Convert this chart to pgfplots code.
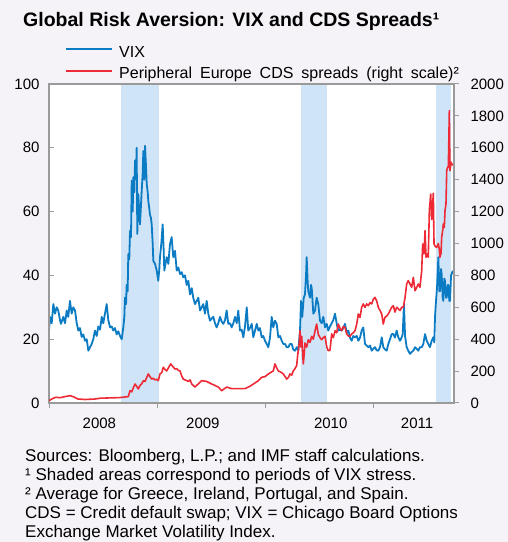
\documentclass[border=0pt]{standalone}
\usepackage{pgfplots}
\pgfplotsset{compat=1.18}
\usepackage{fontspec}
\setmainfont{Liberation Sans}
\definecolor{bgc}{HTML}{F6F3F8}
\definecolor{shade}{HTML}{CFE4F7}
\definecolor{vixblue}{HTML}{0B7BC3}
\definecolor{cdsred}{HTML}{ED2A35}
\definecolor{axgray}{HTML}{9A9A9A}
\begin{document}
\begin{tikzpicture}[x=1bp,y=1bp]
\useasboundingbox (0,0) rectangle (508,542);
\fill[bgc] (0,0) rectangle (508,542);
\node[anchor=base west, inner sep=0pt, font=\bfseries\fontsize{19.5bp}{22bp}\selectfont] at (23,515) {Global Risk Aversion: VIX and CDS Spreads¹};
% legend
\draw[vixblue, line width=1.8bp] (66,492.7) -- (112.3,492.7);
\draw[cdsred, line width=1.8bp] (66,471.3) -- (112.3,471.3);
\node[anchor=base west, inner sep=0pt, font=\fontsize{16bp}{19bp}\selectfont] at (119,484.7) {VIX};
\node[anchor=base west, inner sep=0pt, font=\fontsize{16bp}{19bp}\selectfont] at (119,463) {Peripheral\hspace{8bp}Europe\hspace{8bp}CDS\hspace{8bp}spreads\hspace{8bp}(right\hspace{8bp}scale)²};
\begin{axis}[
  at={(49bp,139bp)}, anchor=south west,
  width=405bp, height=319bp, scale only axis,
  xmin=0, xmax=45, ymin=0, ymax=100,
  axis background/.style={fill=white},
  axis line style={draw=axgray, line width=1.5bp, -},
  axis on top,
  xtick=\empty,
  ytick={0,20,...,100}, ytick pos=left, tick align=inside,
  major tick length=5bp, tick style={draw=axgray, line width=1bp},
  yticklabel style={font=\fontsize{15bp}{18bp}\selectfont, xshift=-6bp},
  /pgf/number format/assume math mode=true,
]
\addplot[fill=shade, draw=none, forget plot] coordinates {(8,0) (8,100) (12.22,100) (12.22,0)} -- cycle;
\addplot[fill=shade, draw=none, forget plot] coordinates {(28,0) (28,100) (30.89,100) (30.89,0)} -- cycle;
\addplot[fill=shade, draw=none, forget plot] coordinates {(43,0) (43,100) (44.67,100) (44.67,0)} -- cycle;
\addplot[draw=vixblue, line width=1.8bp, line join=round] coordinates {
(0.00,22.7) (0.11,27) (0.30,25) (0.48,31) (0.67,28) (0.86,30) (1.03,29) (1.22,26) (1.33,24.8) (1.59,27)
(1.78,25) (1.97,29) (2.14,27) (2.33,32) (2.52,28) (2.70,30) (2.89,29) (3.08,25) (3.26,22.7) (3.44,23.5)
(3.63,20.7) (3.81,21.5) (4.00,19.5) (4.19,20) (4.37,16.4) (4.56,17.5) (4.74,18.5) (4.92,20) (5.11,22.7) (5.30,21)
(5.48,24) (5.67,23) (5.86,27) (6.03,25) (6.22,28) (6.41,31) (6.59,26) (6.78,23.7) (6.97,24) (7.14,22.7)
(7.33,23.5) (7.52,21.5) (7.70,22.5) (7.89,21) (8.08,20) (8.26,23.8) (8.37,27) (8.44,33) (8.56,31) (8.63,37)
(8.74,35) (8.81,46.7) (8.92,45) (9.00,54) (9.11,52) (9.19,69.7) (9.30,60) (9.37,70.8) (9.48,66) (9.56,76)
(9.67,72) (9.74,80) (9.81,53) (9.92,65.5) (10.03,60) (10.11,56) (10.22,62) (10.30,66.5) (10.41,72) (10.48,79)
(10.59,70) (10.67,80.6) (10.78,74) (10.86,68.6) (10.97,66) (11.03,63.4) (11.14,61) (11.22,59) (11.33,58) (11.41,56)
(11.52,50) (11.59,44.6) (11.78,43.6) (11.97,41.5) (12.14,38.3) (12.26,42) (12.33,45.7) (12.48,50) (12.63,56) (12.74,48)
(12.81,41.5) (12.97,44) (13.08,45.7) (13.26,43.6) (13.44,49.8) (13.63,52) (13.74,48) (13.81,45.7) (14.00,47.7) (14.19,41.5)
(14.37,42.5) (14.56,40.4) (14.74,41) (14.92,39.4) (15.11,40) (15.30,37) (15.48,38.3) (15.67,34) (15.86,36) (16.03,33)
(16.22,31) (16.41,32) (16.59,33) (16.78,29) (16.97,30) (17.14,31) (17.33,28) (17.52,32) (17.70,28) (17.89,25.8)
(18.08,26.5) (18.26,27) (18.44,25) (18.63,23.7) (18.81,25) (19.00,27) (19.19,25.5) (19.37,24.8) (19.56,26) (19.74,29)
(19.92,24.8) (20.11,25) (20.30,23.7) (20.48,25) (20.67,27) (20.86,25) (21.03,29) (21.22,22.7) (21.41,23) (21.59,20.6)
(21.78,24) (21.97,30) (22.14,22.7) (22.33,23.5) (22.52,24.8) (22.70,20.6) (22.89,22.7) (23.08,24.8) (23.26,22.7) (23.44,23.5)
(23.63,20.6) (23.81,21) (24.00,19.5) (24.19,18.5) (24.37,17.5) (24.56,20.6) (24.74,27) (24.92,23.7) (25.11,25.8) (25.30,24.8)
(25.48,20.6) (25.67,21) (25.86,19.5) (26.03,18.5) (26.22,18.5) (26.41,17.5) (26.59,17.5) (26.78,18.5) (26.97,18.5) (27.14,16.8)
(27.33,16.4) (27.52,17.5) (27.70,16.4) (27.89,22.7) (28.00,32) (28.14,27) (28.30,33) (28.44,34) (28.56,40) (28.63,45.7)
(28.74,38) (28.81,35) (29.00,33) (29.11,37) (29.19,36) (29.37,28) (29.56,29) (29.74,33) (29.92,31) (30.11,25.8)
(30.30,25) (30.48,27) (30.67,23.7) (30.86,24.8) (31.03,22.7) (31.22,24) (31.41,25) (31.59,26) (31.78,28) (31.97,24.8)
(32.14,22.7) (32.33,23) (32.52,22.7) (32.70,23.5) (32.89,24.8) (33.08,22) (33.26,22.7) (33.44,20.5) (33.63,19.5) (33.81,21)
(34.00,20.6) (34.19,21) (34.37,19.5) (34.56,20.5) (34.74,22.7) (34.92,23.7) (35.11,18.5) (35.30,18) (35.48,17.5) (35.67,18)
(35.86,16.4) (36.03,17) (36.22,17.5) (36.41,16.5) (36.59,16.4) (36.78,17.5) (36.97,20.6) (37.14,17.5) (37.33,16.8) (37.52,16.4)
(37.70,18.5) (37.89,20) (38.08,21.6) (38.26,21.6) (38.44,20.5) (38.63,22.7) (38.81,20.6) (39.00,19.5) (39.19,20.6) (39.30,21.6)
(39.44,31) (39.56,21) (39.74,17.5) (39.92,16.4) (40.11,15.4) (40.30,16) (40.48,16.4) (40.67,17.5) (40.86,17) (41.03,16.4)
(41.22,17.5) (41.41,17.5) (41.59,18.5) (41.78,21.6) (41.97,19.5) (42.14,18.5) (42.33,17.5) (42.52,19.5) (42.70,20.6) (42.81,19)
(42.89,27) (43.00,32) (43.11,36) (43.26,45.7) (43.37,35) (43.44,35) (43.56,42) (43.63,40.4) (43.74,33) (43.81,32)
(43.92,39) (44.00,38.3) (44.11,33) (44.19,33) (44.30,37) (44.37,37) (44.48,32) (44.56,32) (44.67,40) (44.74,40.4)
(44.86,41.5)
};
\end{axis}
\begin{axis}[
  at={(49bp,139bp)}, anchor=south west,
  width=405bp, height=319bp, scale only axis,
  xmin=0, xmax=45, ymin=0, ymax=2000,
  axis y line*=right, axis x line*=bottom,
  axis line style={draw=axgray, line width=1.5bp, -},
  tick align=outside,
  xtick={0,12,24,36}, xticklabels={},
  extra x ticks={5.6,17.1,31.3,40.9},
  extra x tick labels={2008,2009,2010,2011},
  extra x tick style={major tick length=0pt},
  ytick={0,200,...,2000},
  major tick length=5bp, tick style={draw=axgray, line width=1bp},
  ticklabel style={font=\fontsize{15bp}{18bp}\selectfont},
  xticklabel style={yshift=-12bp},
  yticklabel style={xshift=8bp},
  /pgf/number format/assume math mode=true,
  /pgf/number format/1000 sep={},
]
\addplot[draw=cdsred, line width=1.6bp, line join=round] coordinates {
(0.00,15) (0.48,30) (0.78,36) (1.22,33) (1.78,40) (2.33,46) (2.67,40) (3.22,25) (4.00,22) (5.11,25)
(5.67,30) (6.78,32) (7.89,34) (8.81,40) (9.00,77) (9.19,70) (9.37,95) (9.56,119) (9.74,105) (9.92,88)
(10.11,110) (10.30,120) (10.48,140) (10.67,135) (10.86,160) (11.03,182) (11.22,165) (11.41,150) (11.59,155) (11.78,145)
(11.97,148) (12.14,140) (12.33,182) (12.52,190) (12.70,224) (12.89,210) (13.08,201) (13.26,220) (13.52,245) (13.74,230)
(14.00,213) (14.19,215) (14.37,205) (14.56,201) (14.74,170) (14.92,150) (15.11,145) (15.30,140) (15.48,135) (15.67,145)
(15.86,119) (16.22,100) (16.59,120) (16.97,140) (17.52,135) (18.08,119) (18.44,110) (18.81,100) (19.19,77) (19.37,85)
(19.74,100) (20.30,90) (21.03,90) (21.78,90) (22.33,105) (22.70,119) (23.26,140) (23.63,161) (24.00,165) (24.37,182)
(24.74,195) (24.92,201) (25.11,245) (25.30,220) (25.48,201) (25.86,190) (26.03,182) (26.41,150) (26.59,160) (26.78,182)
(26.97,175) (27.14,201) (27.33,215) (27.52,235) (27.63,300) (27.70,328) (27.81,380) (27.89,453) (28.00,350) (28.08,418)
(28.19,300) (28.26,245) (28.37,320) (28.44,376) (28.63,350) (28.81,397) (29.00,380) (29.19,418) (29.37,400) (29.56,453)
(29.74,495) (29.92,430) (30.11,410) (30.30,397) (30.48,410) (30.67,418) (30.86,351) (31.03,328) (31.22,330) (31.41,433)
(31.59,410) (31.78,453) (31.97,440) (32.14,495) (32.33,470) (32.52,453) (32.70,480) (32.89,474) (33.08,433) (33.26,420)
(33.44,418) (33.63,433) (33.81,440) (34.00,453) (34.19,495) (34.37,558) (34.56,537) (34.74,600) (34.92,621) (35.11,600)
(35.30,621) (35.48,610) (35.67,630) (35.86,621) (36.03,650) (36.22,662) (36.41,640) (36.59,600) (36.78,580) (36.97,558)
(37.14,495) (37.33,537) (37.52,545) (37.70,558) (37.89,580) (38.08,600) (38.26,610) (38.44,570) (38.63,600) (38.81,590)
(39.00,580) (39.19,600) (39.37,600) (39.56,662) (39.74,746) (39.92,767) (40.11,746) (40.30,725) (40.48,788) (40.67,704)
(40.86,725) (41.03,746) (41.22,725) (41.41,830) (41.52,997) (41.67,935) (41.78,1080) (41.89,914) (42.04,935) (42.14,914)
(42.26,1206) (42.41,1310) (42.52,1150) (42.63,1240) (42.70,1315) (42.78,997) (42.93,980) (43.08,976) (43.26,1000) (43.37,960)
(43.44,914) (43.56,940) (43.63,1039) (43.74,1080) (43.81,1122) (43.92,1100) (44.00,1206) (44.11,1250) (44.19,1457) (44.30,1480)
(44.37,1478) (44.44,1700) (44.48,1833) (44.52,1600) (44.56,1457) (44.67,1510) (44.74,1500) (44.86,1490)
};
\end{axis}
\begin{scope}[every node/.style={anchor=base west, inner sep=0pt, font=\fontsize{17bp}{19.5bp}\selectfont}]
\node at (25,80) {Sources: Bloomberg, L.P.; and IMF staff calculations.};
\node at (25,61) {¹ Shaded areas correspond to periods of VIX stress.};
\node at (25,42) {² Average for Greece, Ireland, Portugal, and Spain.};
\node at (25,23) {CDS = Credit default swap; VIX = Chicago Board Options};
\node at (25,4) {Exchange Market Volatility Index.};
\end{scope}
\end{tikzpicture}
\end{document}
